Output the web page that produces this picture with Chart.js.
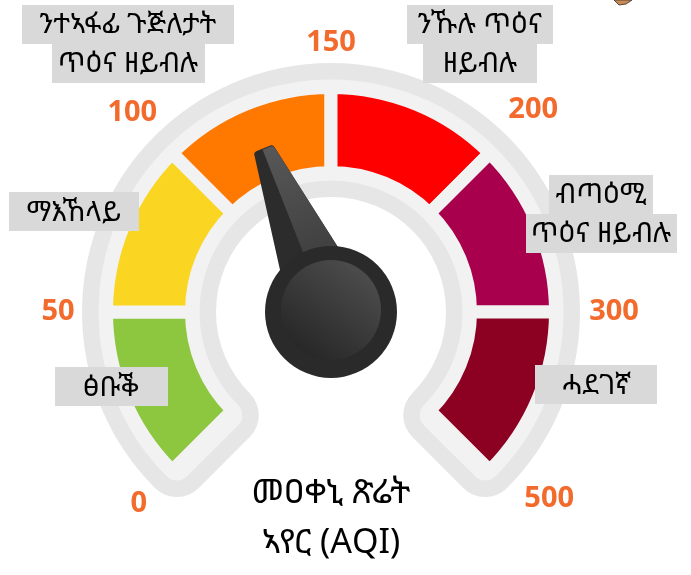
<!DOCTYPE html>
<html>
<head>
<meta charset="utf-8">
<script src="https://cdn.jsdelivr.net/npm/chart.js@4.4.1/dist/chart.umd.min.js"></script>
<style>
  html, body { margin: 0; padding: 0; background: #fff; }
  #wrap { position: relative; width: 691px; height: 575px; }
</style>
</head>
<body>
<div id="wrap"><canvas id="gauge"></canvas></div>
<script>
// AQI bands, one gauge segment each (line breaks as in the picture)
const bandNames = [
  ['ፅቡቕ'],
  ['ማእኸላይ'],
  ['ንተኣፋፊ ጉጅለታት', 'ጥዕና ዘይብሉ'],
  ['ንኹሉ ጥዕና', 'ዘይብሉ'],
  ['ብጣዕሚ', 'ጥዕና ዘይብሉ'],
  ['ሓደገኛ']
];
// every band takes the same slice of the dial
const bandSizes = [1, 1, 1, 1, 1, 1];
// AQI value at each segment boundary
const tickValues = [0, 50, 100, 150, 200, 300, 500];
const needleValue = 125;
const titleLines = ['መዐቀኒ ጽሬት', 'ኣየር (AQI)'];

const bandColors = ['#8dc63f', '#fad623', '#ff7800', '#ff0000', '#a8004c', '#8c0021'];

// layout bits (pixels / degrees, relative to the dial centre)
const labelOffsets = [[-220, 75], [-257, -100], [-203, -268], [149, -268], [270, -98], [265, 73]];
const boxWidths = [[113], [130], [212, 153], [146, 114], [104, 151], [122]];
const tickRadius = [272, 273, 281, 269, 286, 283, 287];
const tickNudge = [0, 0, 0, 0, 0, 0, -4.5];

const ETH_FONT = "'Noto Sans Ethiopic', 'Abyssinica SIL', 'Open Sans', 'DejaVu Sans', sans-serif";
const GAP = 13;

function dial(chart) {
  const arcs = chart.getDatasetMeta(0).data;
  const first = arcs[0];
  const last = arcs[arcs.length - 1];
  const bounds = [first.startAngle].concat(arcs.map(a => a.endAngle));
  return {
    x: first.x,
    y: first.y,
    outer: first.outerRadius - GAP / 2,
    inner: first.innerRadius + GAP / 2,
    start: first.startAngle,
    end: last.endAngle,
    bounds
  };
}

// grey rim behind the coloured segments
const rimPlugin = {
  id: 'rim',
  beforeDatasetsDraw(chart) {
    const g = dial(chart);
    const ctx = chart.ctx;
    ctx.save();
    ctx.lineJoin = 'round';
    [['#e6e6e6', 62], ['#f2f2f2', 29]].forEach(([c, w]) => {
      ctx.beginPath();
      ctx.arc(g.x, g.y, g.outer, g.start, g.end);
      ctx.arc(g.x, g.y, g.inner, g.end, g.start, true);
      ctx.closePath();
      ctx.fillStyle = c;
      ctx.strokeStyle = c;
      ctx.lineWidth = w;
      ctx.fill();
      ctx.stroke();
    });
    ctx.restore();
  }
};

// orange numbers at the segment boundaries
const tickPlugin = {
  id: 'ticks',
  afterDatasetsDraw(chart) {
    const g = dial(chart);
    const ctx = chart.ctx;
    ctx.save();
    ctx.font = "bold 29px 'Open Sans', sans-serif";
    ctx.fillStyle = '#f26a2c';
    ctx.textAlign = 'center';
    ctx.textBaseline = 'middle';
    tickValues.forEach((v, i) => {
      const a = g.bounds[i] + tickNudge[i] * Math.PI / 180;
      const r = tickRadius[i];
      ctx.fillText(String(v), g.x + Math.cos(a) * r, g.y + Math.sin(a) * r);
    });
    ctx.restore();
  }
};

// needle + hub
const needlePlugin = {
  id: 'needle',
  afterDatasetsDraw(chart) {
    const g = dial(chart);
    let k = 0;
    while (k < tickValues.length - 2 && needleValue > tickValues[k + 1]) k++;
    const f = (needleValue - tickValues[k]) / (tickValues[k + 1] - tickValues[k]);
    const ang = g.bounds[k] + f * (g.bounds[k + 1] - g.bounds[k]);

    const ctx = chart.ctx;
    ctx.save();
    ctx.translate(g.x, g.y);
    ctx.save();
    ctx.rotate(ang + Math.PI / 2);
    const tipY = -177, tipW = 11, baseY = -30, baseW = 36;
    ctx.beginPath();
    ctx.moveTo(-baseW, baseY);
    ctx.lineTo(-tipW, tipY + 4);
    ctx.quadraticCurveTo(-tipW, tipY, -tipW + 4, tipY);
    ctx.lineTo(tipW - 4, tipY);
    ctx.quadraticCurveTo(tipW, tipY, tipW, tipY + 4);
    ctx.lineTo(baseW, baseY);
    ctx.closePath();
    ctx.fillStyle = '#2c2c2c';
    ctx.fill();
    // lighter right face
    const grad = ctx.createLinearGradient(0, tipY, 0, baseY);
    grad.addColorStop(0, '#585858');
    grad.addColorStop(1, '#3a3a3a');
    ctx.beginPath();
    ctx.moveTo(-0.1 * baseW, baseY);
    ctx.lineTo(-0.1 * tipW, tipY + 1);
    ctx.lineTo(tipW - 4, tipY + 1);
    ctx.quadraticCurveTo(tipW, tipY + 1, tipW, tipY + 5);
    ctx.lineTo(baseW, baseY);
    ctx.closePath();
    ctx.fillStyle = grad;
    ctx.fill();
    ctx.restore();

    ctx.beginPath();
    ctx.arc(0, 0, 66, 0, Math.PI * 2);
    ctx.fillStyle = '#2a2a2a';
    ctx.fill();
    const hub = ctx.createLinearGradient(30, -40, -30, 40);
    hub.addColorStop(0, '#4b4b4b');
    hub.addColorStop(1, '#272727');
    ctx.beginPath();
    ctx.arc(0, -2, 50, 0, Math.PI * 2);
    ctx.fillStyle = hub;
    ctx.fill();
    ctx.restore();
  }
};

// grey name boxes
const namePlugin = {
  id: 'names',
  afterDraw(chart) {
    const g = dial(chart);
    const ctx = chart.ctx;
    ctx.save();
    ctx.font = '28px ' + ETH_FONT;
    ctx.textAlign = 'center';
    ctx.textBaseline = 'middle';
    const lineH = 39;
    bandNames.forEach((lines, i) => {
      const cx = g.x + labelOffsets[i][0];
      const cy = g.y + labelOffsets[i][1];
      const top = cy - lines.length * lineH / 2;
      lines.forEach((txt, j) => {
        const w = boxWidths[i][j];
        const y = top + j * lineH;
        ctx.fillStyle = '#d9d9d9';
        ctx.fillRect(Math.round(cx - w / 2), Math.round(y), w, lineH);
        ctx.fillStyle = '#000';
        ctx.fillText(txt, cx, y + lineH / 2 + 1);
      });
    });
    // clipped corner of a little icon at the top right
    ctx.beginPath();
    ctx.moveTo(614, 0);
    ctx.lineTo(632, 0);
    ctx.lineTo(626, 4);
    ctx.lineTo(619, 5);
    ctx.closePath();
    ctx.fillStyle = '#c98b55';
    ctx.strokeStyle = '#5a4636';
    ctx.lineWidth = 1;
    ctx.fill();
    ctx.stroke();
    ctx.restore();
  }
};

new Chart(document.getElementById('gauge'), {
  type: 'doughnut',
  data: {
    labels: bandNames.map(l => l.join(' ')),
    datasets: [{
      data: bandSizes,
      backgroundColor: bandColors,
      borderColor: '#f2f2f2',
      borderWidth: GAP,
      borderJoinStyle: 'miter',
      hoverOffset: 0
    }]
  },
  options: {
    responsive: true,
    maintainAspectRatio: false,
    animation: false,
    rotation: -135,
    circumference: 270,
    radius: 224.5,
    cutout: '62.14%',
    layout: {
      padding: { top: 90, left: 0, right: 29, bottom: 0 }
    },
    plugins: {
      legend: { display: false },
      tooltip: { enabled: false },
      title: {
        display: true,
        position: 'bottom',
        text: titleLines,
        color: '#000',
        font: { family: ETH_FONT, size: 34, weight: 'normal', lineHeight: 1.47 },
        padding: { top: 0, bottom: 7 }
      }
    }
  },
  plugins: [rimPlugin, tickPlugin, needlePlugin, namePlugin]
});
</script>
</body>
</html>
